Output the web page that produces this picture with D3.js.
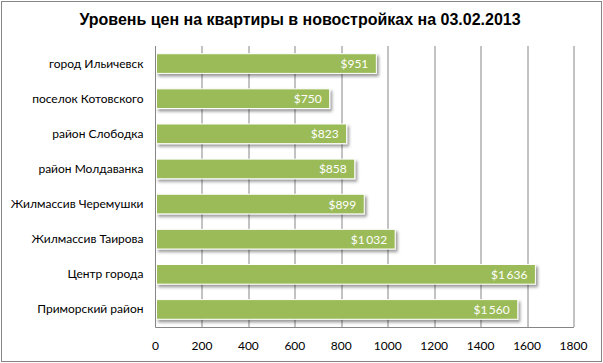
<!DOCTYPE html>
<html>
<head>
<meta charset="utf-8">
<script src="https://cdn.jsdelivr.net/npm/d3@7"></script>
<style>
  body { margin: 0; background: #fff; }
  svg { display: block; }
</style>
</head>
<body>
<svg id="chart" width="603" height="363"></svg>
<script>
// data
var categories = ["город Ильичевск", "поселок Котовского", "район Слободка", "район Молдаванка",
                  "Жилмассив Черемушки", "Жилмассив Таирова", "Центр города", "Приморский район"];
var prices = [951, 750, 823, 858, 899, 1032, 1636, 1560];
var xTicks = [0, 200, 400, 600, 800, 1000, 1200, 1400, 1600, 1800];
var title = "Уровень цен на квартиры в новостройках на 03.02.2013";

var margin = {top: 46, left: 155.5, right: 29.5, bottom: 36};
var W = 603, H = 363;
var plotW = W - margin.left - margin.right;
var plotH = H - margin.top - margin.bottom;

var svg = d3.select("#chart");

// outer frame
svg.append("rect")
    .attr("x", 1.5).attr("y", 1.5)
    .attr("width", W - 3).attr("height", H - 3)
    .attr("fill", "#fff")
    .attr("stroke", "#868686");

// shadow for bars
var defs = svg.append("defs");
var f = defs.append("filter").attr("id", "shadow")
    .attr("x", "-5%").attr("y", "-30%").attr("width", "115%").attr("height", "180%");
f.append("feDropShadow")
    .attr("dx", 2).attr("dy", 2.5).attr("stdDeviation", 1.5)
    .attr("flood-color", "#000").attr("flood-opacity", 0.4);

svg.append("text")
    .attr("x", 300).attr("y", 25)
    .attr("text-anchor", "middle")
    .style("font-family", "'Liberation Sans Narrow', 'Liberation Sans', Arial, sans-serif")
    .style("font-weight", "bold")
    .style("font-size", "16px")
    .attr("fill", "#000")
    .text(title);

var g = svg.append("g").attr("transform", "translate(" + margin.left + "," + margin.top + ")");

var x = d3.scaleLinear().domain([0, 1800]).range([0, plotW]);
var y = d3.scaleBand().domain(categories).range([0, plotH]).paddingInner(0.44).paddingOuter(0.22);

// gridlines
g.selectAll("line.grid")
    .data(xTicks.slice(1))
    .enter().append("line")
    .attr("class", "grid")
    .attr("x1", function(d) { return Math.round(x(d)) + 0.5; })
    .attr("x2", function(d) { return Math.round(x(d)) + 0.5; })
    .attr("y1", 0).attr("y2", plotH)
    .attr("stroke", "#868686");

// axis lines
g.append("line").attr("x1", 0).attr("x2", 0).attr("y1", 0).attr("y2", plotH + 0.5).attr("stroke", "#868686");
g.append("line").attr("x1", 0).attr("x2", x(1800) + 0.5).attr("y1", plotH + 0.5).attr("y2", plotH + 0.5).attr("stroke", "#868686");

// x tick labels
g.selectAll("text.tick")
    .data(xTicks)
    .enter().append("text")
    .attr("class", "tick")
    .attr("x", function(d) { return x(d); })
    .attr("y", plotH + 23)
    .attr("text-anchor", "middle")
    .style("font-family", "Lato, 'Open Sans', sans-serif")
    .style("font-size", "12px")
    .attr("fill", "#000")
    .text(function(d) { return d; });

// category labels
g.selectAll("text.cat")
    .data(categories)
    .enter().append("text")
    .attr("class", "cat")
    .attr("x", -12)
    .attr("y", function(d) { return y(d) + y.bandwidth() / 2 + 4; })
    .attr("text-anchor", "end")
    .style("font-family", "Lato, 'Open Sans', sans-serif")
    .style("font-size", "12px")
    .attr("fill", "#000")
    .text(function(d) { return d; });

// bars
var fmt = function(v) {
    var s = String(v);
    if (v >= 1000) s = s.slice(0, s.length - 3) + "\u2009" + s.slice(-3);
    return "$" + s;
};

g.selectAll("rect.bar")
    .data(prices)
    .enter().append("rect")
    .attr("class", "bar")
    .attr("x", 1)
    .attr("y", function(d, i) { return y(categories[i]); })
    .attr("width", function(d) { return x(d) - 1; })
    .attr("height", y.bandwidth())
    .attr("fill", "#9bbb59")
    .attr("stroke", "#fff")
    .attr("stroke-width", 1)
    .attr("filter", "url(#shadow)");

g.selectAll("text.val")
    .data(prices)
    .enter().append("text")
    .attr("class", "val")
    .attr("x", function(d) { return x(d) - 8; })
    .attr("y", function(d, i) { return y(categories[i]) + y.bandwidth() / 2 + 4.5; })
    .attr("text-anchor", "end")
    .style("font-family", "Lato, 'Open Sans', sans-serif")
    .style("font-size", "12px")
    .attr("fill", "#fff")
    .text(fmt);
</script>
</body>
</html>
